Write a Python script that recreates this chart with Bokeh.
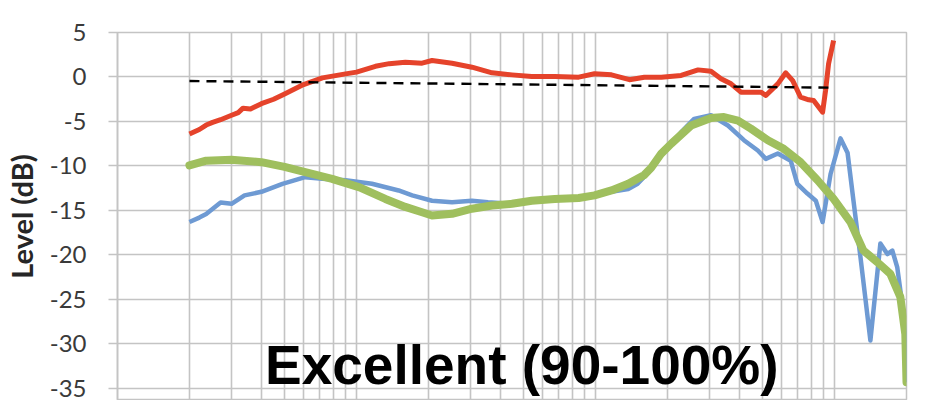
from bokeh.plotting import figure
from bokeh.models import FixedTicker, Label
from bokeh.embed import file_html
from bokeh.resources import INLINE

# ---- data ----
red_freq = [20, 22, 23.5, 25, 27, 30, 32, 33.5, 36, 40, 45, 50, 60, 72, 90, 100, 120, 137, 160,
            188, 207, 251, 304, 369, 447, 541, 675, 850, 990, 1166, 1386, 1600, 1884, 2281,
            2685, 3041, 3350, 3690, 4057, 4920, 5158, 5788, 6250, 6683, 7210, 7795, 8175,
            8913, 9173, 9441, 9908]
red_db = [-6.4, -5.9, -5.4, -5.1, -4.8, -4.3, -4.0, -3.5, -3.6, -3.0, -2.5, -1.9, -0.85, -0.1,
          0.35, 0.55, 1.2, 1.5, 1.65, 1.55, 1.85, 1.55, 1.1, 0.47, 0.24, 0.06, 0.06, -0.02,
          0.36, 0.24, -0.3, -0.02, -0.02, 0.17, 0.8, 0.65, -0.2, -0.77, -1.7, -1.7, -2.08,
          -0.77, 0.47, -0.4, -2.27, -2.56, -2.64, -3.95, -1.5, 1.48, 4.1]

blue_freq = [20, 22, 23.5, 27, 30, 34, 40, 49, 61, 72, 90, 116, 150, 171, 207, 251, 304, 355,
             447, 541, 675, 850, 990, 1166, 1370, 1500, 1710, 1884, 2073, 2300, 2585, 3041,
             3581, 4178, 4775, 5158, 5788, 6556, 6985, 7700, 8350, 8913, 9623, 10593, 11333,
             12000, 12830, 14125, 15550, 16630, 17450, 18300, 19190, 19770, 20000]
blue_db = [-16.3, -15.8, -15.4, -14.1, -14.25, -13.3, -12.9, -12.0, -11.26, -11.44, -11.6,
           -12.0, -12.75, -13.3, -13.9, -14.07, -13.9, -14.07, -14.25, -13.9, -13.7, -13.6,
           -13.3, -12.9, -12.6, -12.0, -10.4, -8.8, -7.6, -6.1, -4.7, -4.3, -5.45, -7.1,
           -8.26, -9.2, -8.6, -9.4, -12.0, -13.1, -13.9, -16.3, -10.9, -6.9, -8.5, -13.9,
           -20.2, -29.6, -18.7, -19.9, -19.5, -21.4, -25.5, -29.5, -34.3]

green_freq = [20, 23.5, 30, 40, 50, 61, 79, 103, 132, 160, 188, 207, 251, 304, 369, 447, 541,
              675, 850, 990, 1166, 1370, 1600, 1710, 1884, 2073, 2512, 3041, 3447, 3945, 4467,
              5260, 6131, 7210, 8490, 9908, 11660, 13210, 15100, 17100, 18840, 19770, 20000]
green_db = [-9.94, -9.4, -9.3, -9.57, -10.1, -10.7, -11.44, -12.4, -13.7, -14.6, -15.2, -15.56,
            -15.37, -14.8, -14.44, -14.25, -13.9, -13.7, -13.6, -13.3, -12.75, -12.0, -11.0,
            -10.2, -8.6, -7.5, -5.45, -4.6, -4.5, -4.9, -5.8, -7.1, -8.07, -9.57, -11.6, -13.7,
            -16.3, -19.5, -20.8, -22.1, -24.7, -28.9, -34.3]

ref_freq = [20, 10000]
ref_db = [-0.45, -1.2]

y_ticks = [5, 0, -5, -10, -15, -20, -25, -30, -35]
y_labels = ["5", "0", "-5", "-10", "-15", "-20", "-25", "-30", "-35"]
x_grid = [m * 10 ** d for d in range(1, 5) for m in range(1, 10)] + [20000]

title_text = "Excellent (90-100%)"
y_title = "Level (dB)"

# ---- figure ----
p = figure(width=925, height=400, x_axis_type="log", x_range=(10, 20000),
           y_range=(-36.35, 5), output_backend="svg", toolbar_location=None,
           min_border_left=114, min_border_right=19, min_border_top=32, min_border_bottom=0)
p.background_fill_color = "white"
p.border_fill_color = "white"
p.outline_line_color = "#c4c4c4"
p.outline_line_width = 1.5

p.xaxis.visible = False
p.xgrid.ticker = FixedTicker(ticks=x_grid)
p.xgrid.grid_line_color = "#c4c4c4"
p.xgrid.grid_line_width = 1.6

p.yaxis.ticker = FixedTicker(ticks=y_ticks)
p.yaxis.major_label_overrides = {t: l for t, l in zip(y_ticks, y_labels)}
p.yaxis.major_label_text_font = "Lato"
p.yaxis.major_label_text_font_size = "24px"
p.yaxis.major_label_text_color = "#3a3a3a"
p.yaxis.major_label_standoff = 22
p.yaxis.major_tick_out = 9
p.yaxis.major_tick_in = 0
p.yaxis.minor_tick_out = 0
p.yaxis.minor_tick_in = 0
p.yaxis.major_tick_line_color = "#c4c4c4"
p.yaxis.major_tick_line_width = 1.6
p.yaxis.axis_line_color = "#c4c4c4"
p.yaxis.axis_line_width = 1.6
p.yaxis.axis_label = y_title
p.yaxis.axis_label_text_font = "Lato"
p.yaxis.axis_label_text_font_style = "bold"
p.yaxis.axis_label_text_font_size = "29px"
p.yaxis.axis_label_text_color = "#262626"
p.yaxis.axis_label_standoff = 8
p.ygrid.grid_line_color = "#c4c4c4"
p.ygrid.grid_line_width = 1.6

p.line(blue_freq, blue_db, line_color="#6e9ad3", line_width=4.5, line_join="round")
p.line(green_freq, green_db, line_color="#9fbf5e", line_width=8, line_join="round",
       line_cap="round")
p.line(red_freq, red_db, line_color="#e5432b", line_width=5, line_join="round")
p.line(ref_freq, ref_db, line_color="black", line_width=2.4, line_dash="10 7")

p.add_layout(Label(x=41.4, y=-32.4, text=title_text, text_font="Liberation Sans",
                   text_font_style="bold", text_font_size="55px", text_color="black",
                   text_baseline="alphabetic"))

open("out.html", "w").write(file_html(p, INLINE))
